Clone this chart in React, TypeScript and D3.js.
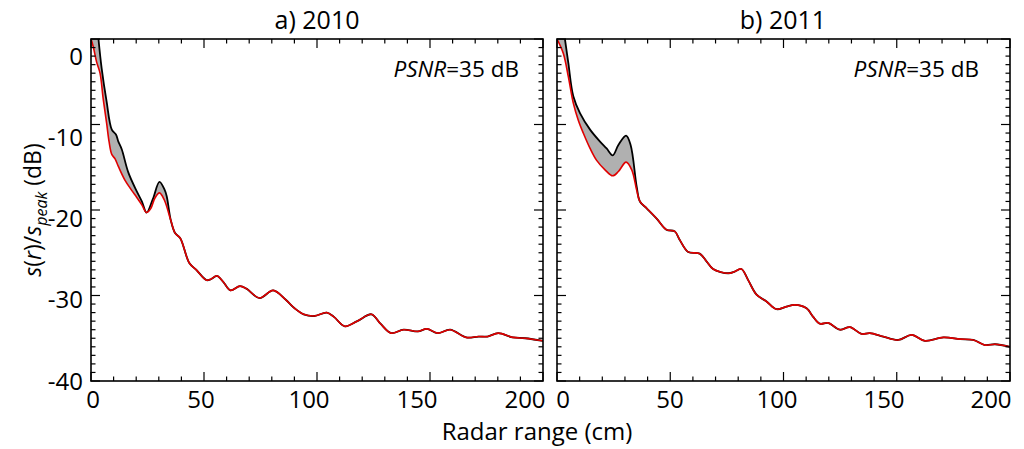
import React from "react";
import * as d3 from "d3";

const W = 1024;
const H = 449;
const FONT = "'Open Sans', 'Noto Sans', sans-serif";

const xTickValues = [0, 50, 100, 150, 200];
const yTickValues = [-40, -30, -20, -10, 0];
const panelTitles = ["a) 2010", "b) 2011"];
const psnrValue = "35 dB";

// Panel a) 2010 — red (lower) curve
const leftRedX = [0, 1.0, 2.5, 4.0, 5.4, 6.9, 8.0, 9.2, 10.6, 12.1, 15.0, 18.0, 20.2, 22.5, 24.6, 26.5, 28.3, 30.3, 32.4, 35.3, 37.2, 39.5, 43.5, 46.6, 51.1, 53.0, 55.7, 58.5, 61.7, 65.9, 68.8, 74.6, 80.6, 86.2, 90.1, 94.1, 98.8, 104.3, 107.5, 112.3, 117.8, 124.1, 128.1, 132.8, 138.3, 144.7, 148.6, 153.4, 158.9, 166, 171.5, 175.5, 180.2, 186.6, 192.1, 200];
const leftRedY = [0, -0.9, -2.7, -4.0, -7.0, -9.8, -12.0, -13.5, -14.0, -14.9, -16.5, -17.7, -18.5, -19.4, -20.3, -19.8, -18.6, -18.0, -18.8, -21.2, -22.7, -23.3, -26.2, -27.0, -28.2, -28.1, -27.7, -28.4, -29.4, -28.9, -29.2, -30.3, -29.4, -30.5, -31.5, -32.2, -32.4, -32.0, -32.5, -33.6, -33.0, -32.2, -33.3, -34.4, -34.0, -34.2, -33.9, -34.4, -34.0, -34.9, -34.8, -34.8, -34.4, -34.9, -35.0, -35.3];
// Panel a) 2010 — black (upper) curve, until it joins the red one
const leftBlackX = [3.3, 4.7, 6.9, 9.2, 11.1, 12.1, 13.6, 16.5, 20.2, 22.5, 24.6, 27.4, 30.3, 32.5, 33.5, 35.3];
const leftBlackY = [0, -3.4, -7.3, -10.6, -11.2, -12.0, -12.9, -15.6, -17.8, -19.0, -20.3, -18.7, -16.7, -17.6, -18.4, -21.2];

// Panel b) 2011 — red (lower) curve
const rightRedX = [0, 2.8, 5.0, 7.2, 9.4, 11.6, 14.6, 17.5, 21.2, 24.6, 27.1, 30.5, 33.0, 35.2, 36.6, 39.6, 44.0, 48.3, 52.0, 54.2, 57.9, 63.0, 66.0, 68.9, 75.6, 78.5, 81.4, 84.4, 88.1, 92.5, 96.9, 101.3, 105.0, 110.2, 113.1, 116.1, 119.7, 124.9, 129.3, 134.5, 138.1, 144.0, 150.7, 156.6, 162.4, 170.6, 178.0, 183.8, 189.0, 193.4, 200];
const rightRedY = [0, -1.7, -4.4, -7.5, -9.5, -11.0, -12.8, -14.2, -15.3, -16.0, -15.5, -14.4, -15.3, -17.7, -19.0, -19.8, -21.0, -22.3, -22.5, -23.5, -24.9, -25.1, -26.0, -26.9, -27.4, -27.2, -26.9, -28.2, -29.9, -30.7, -31.6, -31.3, -31.1, -31.5, -32.5, -33.3, -33.2, -34.0, -33.7, -34.5, -34.4, -34.8, -35.2, -34.6, -35.3, -34.9, -35.1, -35.2, -35.8, -35.7, -36.0];
// Panel b) 2011 — black (upper) curve, until it joins the red one
const rightBlackX = [3.5, 5.0, 7.2, 10.2, 14.6, 19.0, 21.9, 24.6, 27.1, 30.5, 32.5, 35.2, 36.6];
const rightBlackY = [0, -2.8, -6.7, -8.7, -10.6, -12.0, -12.8, -13.6, -12.4, -11.3, -12.4, -17.3, -19.0];

type Pt = [number, number];

interface PanelProps {
  id: string;
  x0: number;
  x1: number;
  y0: number;
  y1: number;
  title: string;
  titleX: number;
  psnrX: number;
  redX: number[];
  redY: number[];
  blkX: number[];
  blkY: number[];
  showYLabels: boolean;
  labX0: number;
  labX1: number;
}

function Panel(p: PanelProps) {
  const x = d3.scaleLinear().domain([0, 200]).range([p.x0, p.x1]);
  const y = d3.scaleLinear().domain([-40, 0]).range([p.y1, p.y0]);
  // tick-label positions (labels in the reference are laid out slightly compressed)
  const xl = d3.scaleLinear().domain([0, 200]).range([p.labX0, p.labX1]);
  const yl = d3.scaleLinear().domain([-40, 0]).range([381, 56]);

  const red: Pt[] = p.redX.map((v, i) => [v, p.redY[i]]);
  const blkEarly: Pt[] = p.blkX.map((v, i) => [v, p.blkY[i]]);
  const mergeX = p.blkX[p.blkX.length - 1];
  const blkFull: Pt[] = blkEarly.concat(red.filter((d) => d[0] > mergeX));
  const redEarly: Pt[] = red.filter((d) => d[0] <= mergeX);

  const line = d3
    .line<Pt>()
    .x((d) => x(d[0]))
    .y((d) => y(d[1]))
    .curve(d3.curveCatmullRom.alpha(0.5));

  const upper = line(blkEarly) || "";
  const lowerRev = (line(redEarly.slice().reverse()) || "").replace(/^M/, "L");
  const areaPath = upper + lowerRev + "Z";

  const xMinor = d3.range(0, 201, 10);
  const yMinor = d3.range(-40, 1, 1);
  const MAJ = 9;
  const MIN = 4.5;
  const clipId = "clip-" + p.id;

  return (
    <g>
      <defs>
        <clipPath id={clipId}>
          <rect x={p.x0} y={p.y0} width={p.x1 - p.x0} height={p.y1 - p.y0} />
        </clipPath>
      </defs>
      <g clipPath={`url(#${clipId})`}>
        <path d={areaPath} fill="#b0b0b0" stroke="none" />
        <path d={line(blkFull) || ""} fill="none" stroke="#000" strokeWidth={1.8} />
        <path d={line(red) || ""} fill="none" stroke="#e00000" strokeWidth={1.6} />
      </g>
      {/* ticks */}
      <g stroke="#000" strokeWidth={1.2}>
        {xMinor.map((v) => {
          const len = v % 50 === 0 ? MAJ : MIN;
          return (
            <g key={"xt" + v}>
              <line x1={x(v)} x2={x(v)} y1={p.y1} y2={p.y1 - len} />
              <line x1={x(v)} x2={x(v)} y1={p.y0} y2={p.y0 + len} />
            </g>
          );
        })}
        {yMinor.map((v) => {
          const len = v % 10 === 0 ? MAJ : MIN;
          return (
            <g key={"yt" + v}>
              <line x1={p.x0} x2={p.x0 + len} y1={y(v)} y2={y(v)} />
              <line x1={p.x1} x2={p.x1 - len} y1={y(v)} y2={y(v)} />
            </g>
          );
        })}
      </g>
      <rect
        x={p.x0}
        y={p.y0}
        width={p.x1 - p.x0}
        height={p.y1 - p.y0}
        fill="none"
        stroke="#000"
        strokeWidth={1.6}
      />
      {/* x tick labels */}
      {xTickValues.map((v) => (
        <text key={"xl" + v} x={xl(v)} y={408} textAnchor="middle" fontSize={24} fontFamily={FONT}>
          {v}
        </text>
      ))}
      {p.showYLabels &&
        yTickValues.map((v) => (
          <text
            key={"yl" + v}
            x={83}
            y={yl(v)}
            dy="0.36em"
            textAnchor="end"
            fontSize={24}
            fontFamily={FONT}
          >
            {v}
          </text>
        ))}
      <text x={p.titleX} y={29} textAnchor="middle" fontSize={25} fontFamily={FONT}>
        {p.title}
      </text>
      <text x={p.psnrX} y={77} textAnchor="end" fontSize={22.5} fontFamily={FONT}>
        <tspan fontStyle="italic">PSNR</tspan>
        <tspan>={psnrValue}</tspan>
      </text>
    </g>
  );
}

export default function App() {
  return (
    <svg
      width={W}
      height={H}
      viewBox={`0 0 ${W} ${H}`}
      style={{ position: "absolute", left: 0, top: 0, background: "#fff" }}
    >
      <rect x={0} y={0} width={W} height={H} fill="#fff" />
      <Panel
        id="a"
        x0={91}
        x1={543}
        y0={39}
        y1={381}
        title={panelTitles[0]}
        titleX={317}
        psnrX={519}
        redX={leftRedX}
        redY={leftRedY}
        blkX={leftBlackX}
        blkY={leftBlackY}
        showYLabels={true}
        labX0={93}
        labX1={525}
      />
      <Panel
        id="b"
        x0={557}
        x1={1010}
        y0={39}
        y1={381}
        title={panelTitles[1]}
        titleX={783}
        psnrX={979}
        redX={rightRedX}
        redY={rightRedY}
        blkX={rightBlackX}
        blkY={rightBlackY}
        showYLabels={false}
        labX0={563}
        labX1={991}
      />
      <text x={537} y={440} textAnchor="middle" fontSize={24} fontFamily={FONT}>
        Radar range (cm)
      </text>
      <text
        transform="translate(41,210) rotate(-90)"
        textAnchor="middle"
        fontSize={23}
        fontFamily={FONT}
      >
        <tspan fontStyle="italic">s</tspan>
        <tspan>(</tspan>
        <tspan fontStyle="italic">r</tspan>
        <tspan>)/</tspan>
        <tspan fontStyle="italic">s</tspan>
        <tspan fontStyle="italic" fontSize={16} dy={6}>peak</tspan>
        <tspan dy={-6}> (dB)</tspan>
      </text>
    </svg>
  );
}
